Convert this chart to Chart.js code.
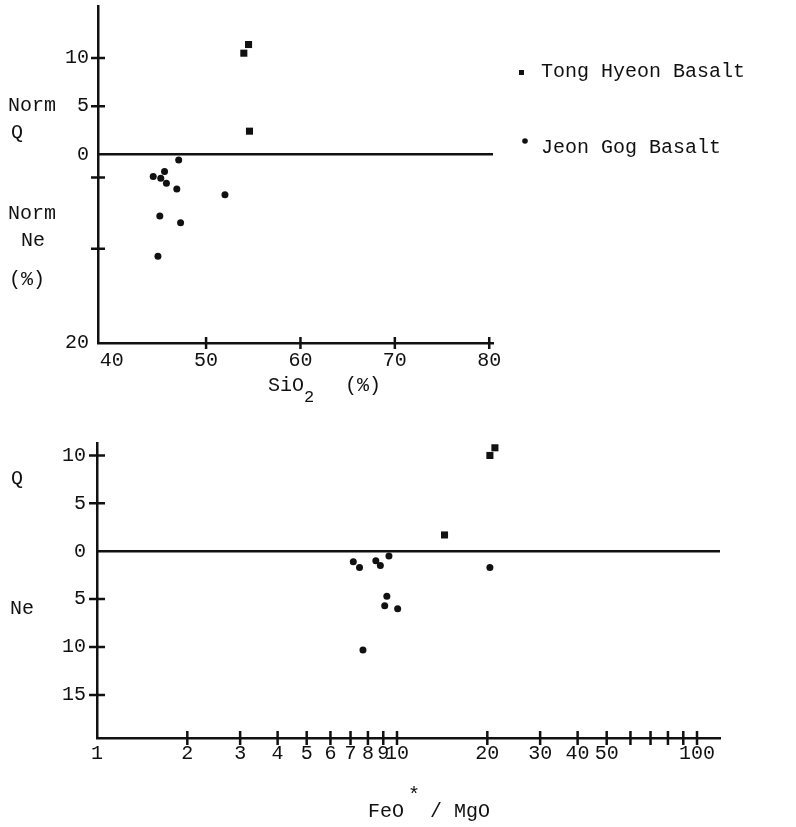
<!DOCTYPE html>
<html>
<head>
<meta charset="utf-8">
<script src="https://cdn.jsdelivr.net/npm/chart.js@4.4.0/dist/chart.umd.min.js"></script>
<style>
  html, body { margin: 0; padding: 0; background: #fff; }
  canvas { position: absolute; left: 0; }
  #chartTop { top: 0; }
  #chartBottom { top: 420px; }
</style>
</head>
<body>
<canvas id="chartTop" width="796" height="420"></canvas>
<canvas id="chartBottom" width="796" height="407"></canvas>
<script>
// top panel: norm Q (+) / norm Ne (-) against SiO2
const tongSiO2 = [54.0, 54.5, 54.6];
const tongNormQ = [10.5, 11.4, 2.4];
const jeonSiO2 = [47.1, 45.6, 44.4, 45.2, 45.8, 46.9, 52.0, 45.1, 47.3, 44.9];
const jeonNorm = [-0.6, -1.8, -2.3, -2.5, -3.0, -3.6, -4.2, -6.4, -7.1, -10.6];

const topXTicks = [40, 50, 60, 70, 80];
const topXMarks = [50, 60, 70, 80];
const topYTicks = [10, 5, 0, -2.4, -9.8, -19.6];
const topYLabels = ['10', '5', '0', '', '', '20'];
const topYMarks = [10, 5, -2.4, -9.8];

// bottom panel: Q (+) / Ne (-) against FeO*/MgO
const tongFeMg = [20.4, 21.2, 14.4];
const tongQ = [10.0, 10.8, 1.7];
const jeonFeMg = [7.15, 7.5, 8.5, 8.8, 9.4, 9.25, 9.1, 10.05, 7.7, 20.4];
const jeonQNe = [-1.1, -1.7, -1.0, -1.5, -0.5, -4.7, -5.7, -6.0, -10.3, -1.7];

const logTicks = [1, 2, 3, 4, 5, 6, 7, 8, 9, 10, 20, 30, 40, 50, 60, 70, 80, 90, 100];
const logLabels = ['1', '2', '3', '4', '5', '6', '7', '8', '9', '10', '20', '30', '40', '50', '', '', '', '', '100'];
const bottomYTicks = [10, 5, 0, -5, -10, -15];
const bottomYLabels = ['10', '5', '0', '5', '10', '15'];

const seriesNames = ['Tong Hyeon Basalt', 'Jeon Gog Basalt'];

const ink = '#111';
const fontFamily = '"Liberation Mono", "DejaVu Sans Mono", monospace';
const tickFont = { family: fontFamily, size: 20 };
const textFont = '20px ' + fontFamily;

Chart.defaults.font.family = fontFamily;
Chart.defaults.color = ink;

function pairs(xs, ys) {
    return xs.map((x, i) => ({ x: x, y: ys[i] }));
}

function text(ctx, str, x, y, align) {
    ctx.textAlign = align || 'left';
    ctx.textBaseline = 'middle';
    ctx.fillText(str, x, y);
}

function crossTicks(ctx, scale, values, half) {
    ctx.beginPath();
    values.forEach(v => {
        const p = scale.getPixelForValue(v);
        if (scale.isHorizontal()) {
            ctx.moveTo(p, scale.top - half);
            ctx.lineTo(p, scale.top + half);
        } else {
            ctx.moveTo(scale.right - half, p);
            ctx.lineTo(scale.right + half, p);
        }
    });
    ctx.stroke();
}

function zeroLine(chart) {
    const { ctx, chartArea, scales } = chart;
    const y0 = scales.y.getPixelForValue(0);
    ctx.save();
    ctx.strokeStyle = ink;
    ctx.lineWidth = 2.5;
    ctx.beginPath();
    ctx.moveTo(chartArea.left, y0);
    ctx.lineTo(chartArea.right, y0);
    ctx.stroke();
    ctx.restore();
}

function datasets(xa, ya, xb, yb) {
    return [
        {
            label: seriesNames[0],
            data: pairs(xa, ya),
            pointStyle: 'rect',
            pointRadius: 5,
            pointHoverRadius: 5,
            backgroundColor: ink,
            borderColor: ink,
            borderWidth: 0
        },
        {
            label: seriesNames[1],
            data: pairs(xb, yb),
            pointStyle: 'circle',
            pointRadius: 3.5,
            pointHoverRadius: 3.5,
            backgroundColor: ink,
            borderColor: ink,
            borderWidth: 0
        }
    ];
}

// no extra room for edge labels: the chart area is fixed by the layout padding
function fitX(h) {
    return s => { s.height = h; s.paddingLeft = 0; s.paddingRight = 0; };
}
function fitY(w) {
    return s => { s.width = w; s.paddingTop = 0; s.paddingBottom = 0; };
}

function axis(extra) {
    return Object.assign({
        grid: { display: false, drawTicks: false },
        border: { display: true, color: ink, width: 2.5 },
    }, extra);
}

const topDecor = {
    id: 'topDecor',
    beforeDatasetsDraw(chart) { zeroLine(chart); },
    afterDraw(chart) {
        const { ctx, scales } = chart;
        ctx.save();
        ctx.strokeStyle = ink;
        ctx.lineWidth = 2.5;
        crossTicks(ctx, scales.x, topXMarks, 6);
        crossTicks(ctx, scales.y, topYMarks, 7);

        ctx.fillStyle = ink;
        ctx.font = textFont;
        text(ctx, 'Norm', 8, scales.y.getPixelForValue(5));
        text(ctx, 'Q', 17, 133, 'center');
        text(ctx, 'Norm', 8, 214);
        text(ctx, 'Ne', 33, 241, 'center');
        text(ctx, '(%)', 27, 280, 'center');

        // x title with subscript
        text(ctx, 'SiO', 268, 386);
        ctx.font = '17px ' + fontFamily;
        text(ctx, '2', 304, 397);
        ctx.font = textFont;
        text(ctx, '(%)', 345, 386);

        // legend
        ctx.fillRect(519, 70, 5, 5);
        ctx.beginPath();
        ctx.arc(525, 141, 2.8, 0, Math.PI * 2);
        ctx.fill();
        text(ctx, seriesNames[0], 541, 72);
        text(ctx, seriesNames[1], 541, 148);
        ctx.restore();
    }
};

const bottomDecor = {
    id: 'bottomDecor',
    beforeDatasetsDraw(chart) { zeroLine(chart); },
    afterDraw(chart) {
        const { ctx, scales } = chart;
        ctx.save();
        ctx.strokeStyle = ink;
        ctx.lineWidth = 2.5;
        crossTicks(ctx, scales.x, logTicks.slice(1), 7);
        crossTicks(ctx, scales.y, bottomYTicks.filter(v => v !== 0), 8);

        ctx.fillStyle = ink;
        ctx.font = textFont;
        text(ctx, 'Q', 17, 59, 'center');
        text(ctx, 'Ne', 22, 189, 'center');

        // x title with superscript star
        text(ctx, 'FeO', 368, 392);
        ctx.font = '20px ' + fontFamily;
        text(ctx, '*', 408, 376);
        ctx.font = textFont;
        text(ctx, '/ MgO', 430, 392);
        ctx.restore();
    }
};

const topChart = new Chart(document.getElementById('chartTop'), {
    type: 'scatter',
    data: { datasets: datasets(tongSiO2, tongNormQ, jeonSiO2, jeonNorm) },
    options: {
        responsive: false,
        animation: false,
        layout: { padding: { top: 6, right: 303, left: 0, bottom: 0 } },
        plugins: { legend: { display: false }, tooltip: { enabled: false } },
        scales: {
            x: axis({
                type: 'linear', min: 38.55, max: 80.4,
                afterBuildTicks: s => { s.ticks = topXTicks.map(v => ({ value: v })); },
                afterFit: fitX(77),
                ticks: { color: ink, font: tickFont, padding: 6, maxRotation: 0, autoSkip: false,
                         callback: v => String(v) }
            }),
            y: axis({
                type: 'linear', min: -19.6, max: 15.4,
                afterBuildTicks: s => { s.ticks = topYTicks.map(v => ({ value: v })); },
                afterFit: fitY(98),
                ticks: { color: ink, font: tickFont, padding: 9, autoSkip: false,
                         callback: (v, i) => topYLabels[i] }
            })
        }
    },
    plugins: [topDecor]
});

const bottomChart = new Chart(document.getElementById('chartBottom'), {
    type: 'scatter',
    data: { datasets: datasets(tongFeMg, tongQ, jeonFeMg, jeonQNe) },
    options: {
        responsive: false,
        animation: false,
        layout: { padding: { top: 23, right: 76, left: 0, bottom: 0 } },
        plugins: { legend: { display: false }, tooltip: { enabled: false } },
        scales: {
            x: axis({
                type: 'logarithmic', min: 1, max: 119.3,
                afterBuildTicks: s => { s.ticks = logTicks.map(v => ({ value: v })); },
                afterFit: fitX(89),
                ticks: { color: ink, font: tickFont, padding: 4, maxRotation: 0, minRotation: 0, autoSkip: false,
                         callback: (v, i) => logLabels[i] }
            }),
            y: axis({
                type: 'linear', min: -19.5, max: 11.3,
                afterBuildTicks: s => { s.ticks = bottomYTicks.map(v => ({ value: v })); },
                afterFit: fitY(97),
                ticks: { color: ink, font: tickFont, padding: 11, autoSkip: false,
                         callback: (v, i) => bottomYLabels[i] }
            })
        }
    },
    plugins: [bottomDecor]
});
</script>
</body>
</html>
